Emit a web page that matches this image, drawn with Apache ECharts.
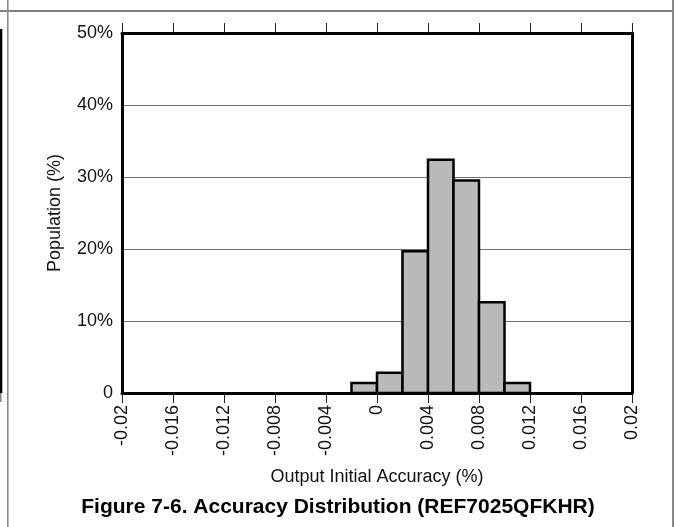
<!DOCTYPE html>
<html>
<head>
<meta charset="utf-8">
<style>
  html, body { margin: 0; padding: 0; background: #fff; }
  #chart { width: 676px; height: 527px; }
</style>
<script src="https://cdn.jsdelivr.net/npm/echarts@6/dist/echarts.min.js"></script>
</head>
<body>
<div id="chart"></div>
<script>
// Histogram bins (start of each bin, in %) and population (%)
const binStarts = [-0.002, 0, 0.002, 0.004, 0.006, 0.008, 0.010];
const binWidth = 0.002;
const population = [1.4, 2.8, 19.7, 32.4, 29.5, 12.6, 1.4];
const xTickMin = -0.02, xTickMax = 0.02, xTickStep = 0.004;
const yTicks = [0, 10, 20, 30, 40, 50];

const FONT = '"Liberation Sans", Arial, Helvetica, sans-serif';
const chart = echarts.init(document.getElementById('chart'), null, { renderer: 'canvas' });

const seriesData = binStarts.map((s, i) => [s, s + binWidth, population[i]]);

const option = {
  animation: false,
  backgroundColor: '#fff',
  textStyle: { fontFamily: FONT },
  title: {
    text: 'Figure 7-6. Accuracy Distribution (REF7025QFKHR)',
    left: 'center',
    top: 492,
    textStyle: { fontFamily: FONT, fontSize: 21, fontWeight: 'bold', color: '#000' }
  },
  grid: { left: 122, top: 33, width: 510, height: 360, containLabel: false },
  xAxis: [
    {
      type: 'value', position: 'bottom',
      min: xTickMin, max: xTickMax, interval: xTickStep,
      name: 'Output Initial Accuracy (%)', nameLocation: 'middle', nameGap: 75,
      nameTextStyle: { fontFamily: FONT, fontSize: 18, color: '#111' },
      axisLine: { show: true, onZero: false, lineStyle: { color: '#000', width: 3 } },
      axisTick: { show: true, inside: false, length: 10, lineStyle: { color: '#222', width: 1 } },
      axisLabel: {
        rotate: 90, margin: 12, fontFamily: FONT, fontSize: 18, color: '#111',
        formatter: v => String(+v.toFixed(3))
      },
      splitLine: { show: false }
    },
    {
      type: 'value', position: 'top',
      min: xTickMin, max: xTickMax, interval: xTickStep,
      axisLine: { show: true, onZero: false, lineStyle: { color: '#000', width: 3 } },
      axisTick: { show: true, inside: false, length: 10, lineStyle: { color: '#222', width: 1 } },
      axisLabel: { show: false },
      splitLine: { show: false }
    }
  ],
  yAxis: [
    {
      type: 'value', position: 'left',
      min: yTicks[0], max: yTicks[yTicks.length - 1], interval: 10,
      name: 'Population (%)', nameLocation: 'middle', nameGap: 58,
      nameTextStyle: { fontFamily: FONT, fontSize: 18, color: '#111' },
      axisLine: { show: true, onZero: false, lineStyle: { color: '#000', width: 3 } },
      axisTick: { show: false },
      axisLabel: {
        margin: 9, fontFamily: FONT, fontSize: 18, color: '#111',
        formatter: v => v === 0 ? '0' : v + '%'
      },
      splitLine: { show: true, lineStyle: { color: '#6e6e6e', width: 1 } }
    },
    {
      type: 'value', position: 'right',
      min: yTicks[0], max: yTicks[yTicks.length - 1], interval: 10,
      axisLine: { show: true, onZero: false, lineStyle: { color: '#000', width: 3 } },
      axisTick: { show: false },
      axisLabel: { show: false },
      splitLine: { show: false }
    }
  ],
  series: [
    {
      type: 'custom',
      xAxisIndex: 0, yAxisIndex: 0,
      data: seriesData,
      encode: { x: [0, 1], y: 2 },
      renderItem: function (params, api) {
        const p0 = api.coord([api.value(0), api.value(2)]);
        const p1 = api.coord([api.value(1), 0]);
        return {
          type: 'rect',
          shape: { x: p0[0], y: p0[1], width: p1[0] - p0[0], height: p1[1] - p0[1] },
          style: { fill: '#b9b9b9', stroke: '#000', lineWidth: 2.5 }
        };
      },
      z: 3
    }
  ],
  graphic: [
    { type: 'line', shape: { x1: 0, y1: 11, x2: 673, y2: 11 }, style: { stroke: '#000', lineWidth: 1.2 }, silent: true },
    { type: 'line', shape: { x1: 7.8, y1: 0, x2: 7.8, y2: 527 }, style: { stroke: '#8a8a8a', lineWidth: 1.6 }, silent: true },
    { type: 'line', shape: { x1: 673, y1: 0, x2: 673, y2: 527 }, style: { stroke: '#8a8a8a', lineWidth: 2 }, silent: true },
    { type: 'rect', shape: { x: 0, y: 29, width: 2.3, height: 364 }, style: { fill: '#000' }, silent: true },
    { type: 'rect', shape: { x: 0, y: 393, width: 1.6, height: 9 }, style: { fill: '#8a8a8a' }, silent: true }
  ]
};

chart.setOption(option);
</script>
</body>
</html>
